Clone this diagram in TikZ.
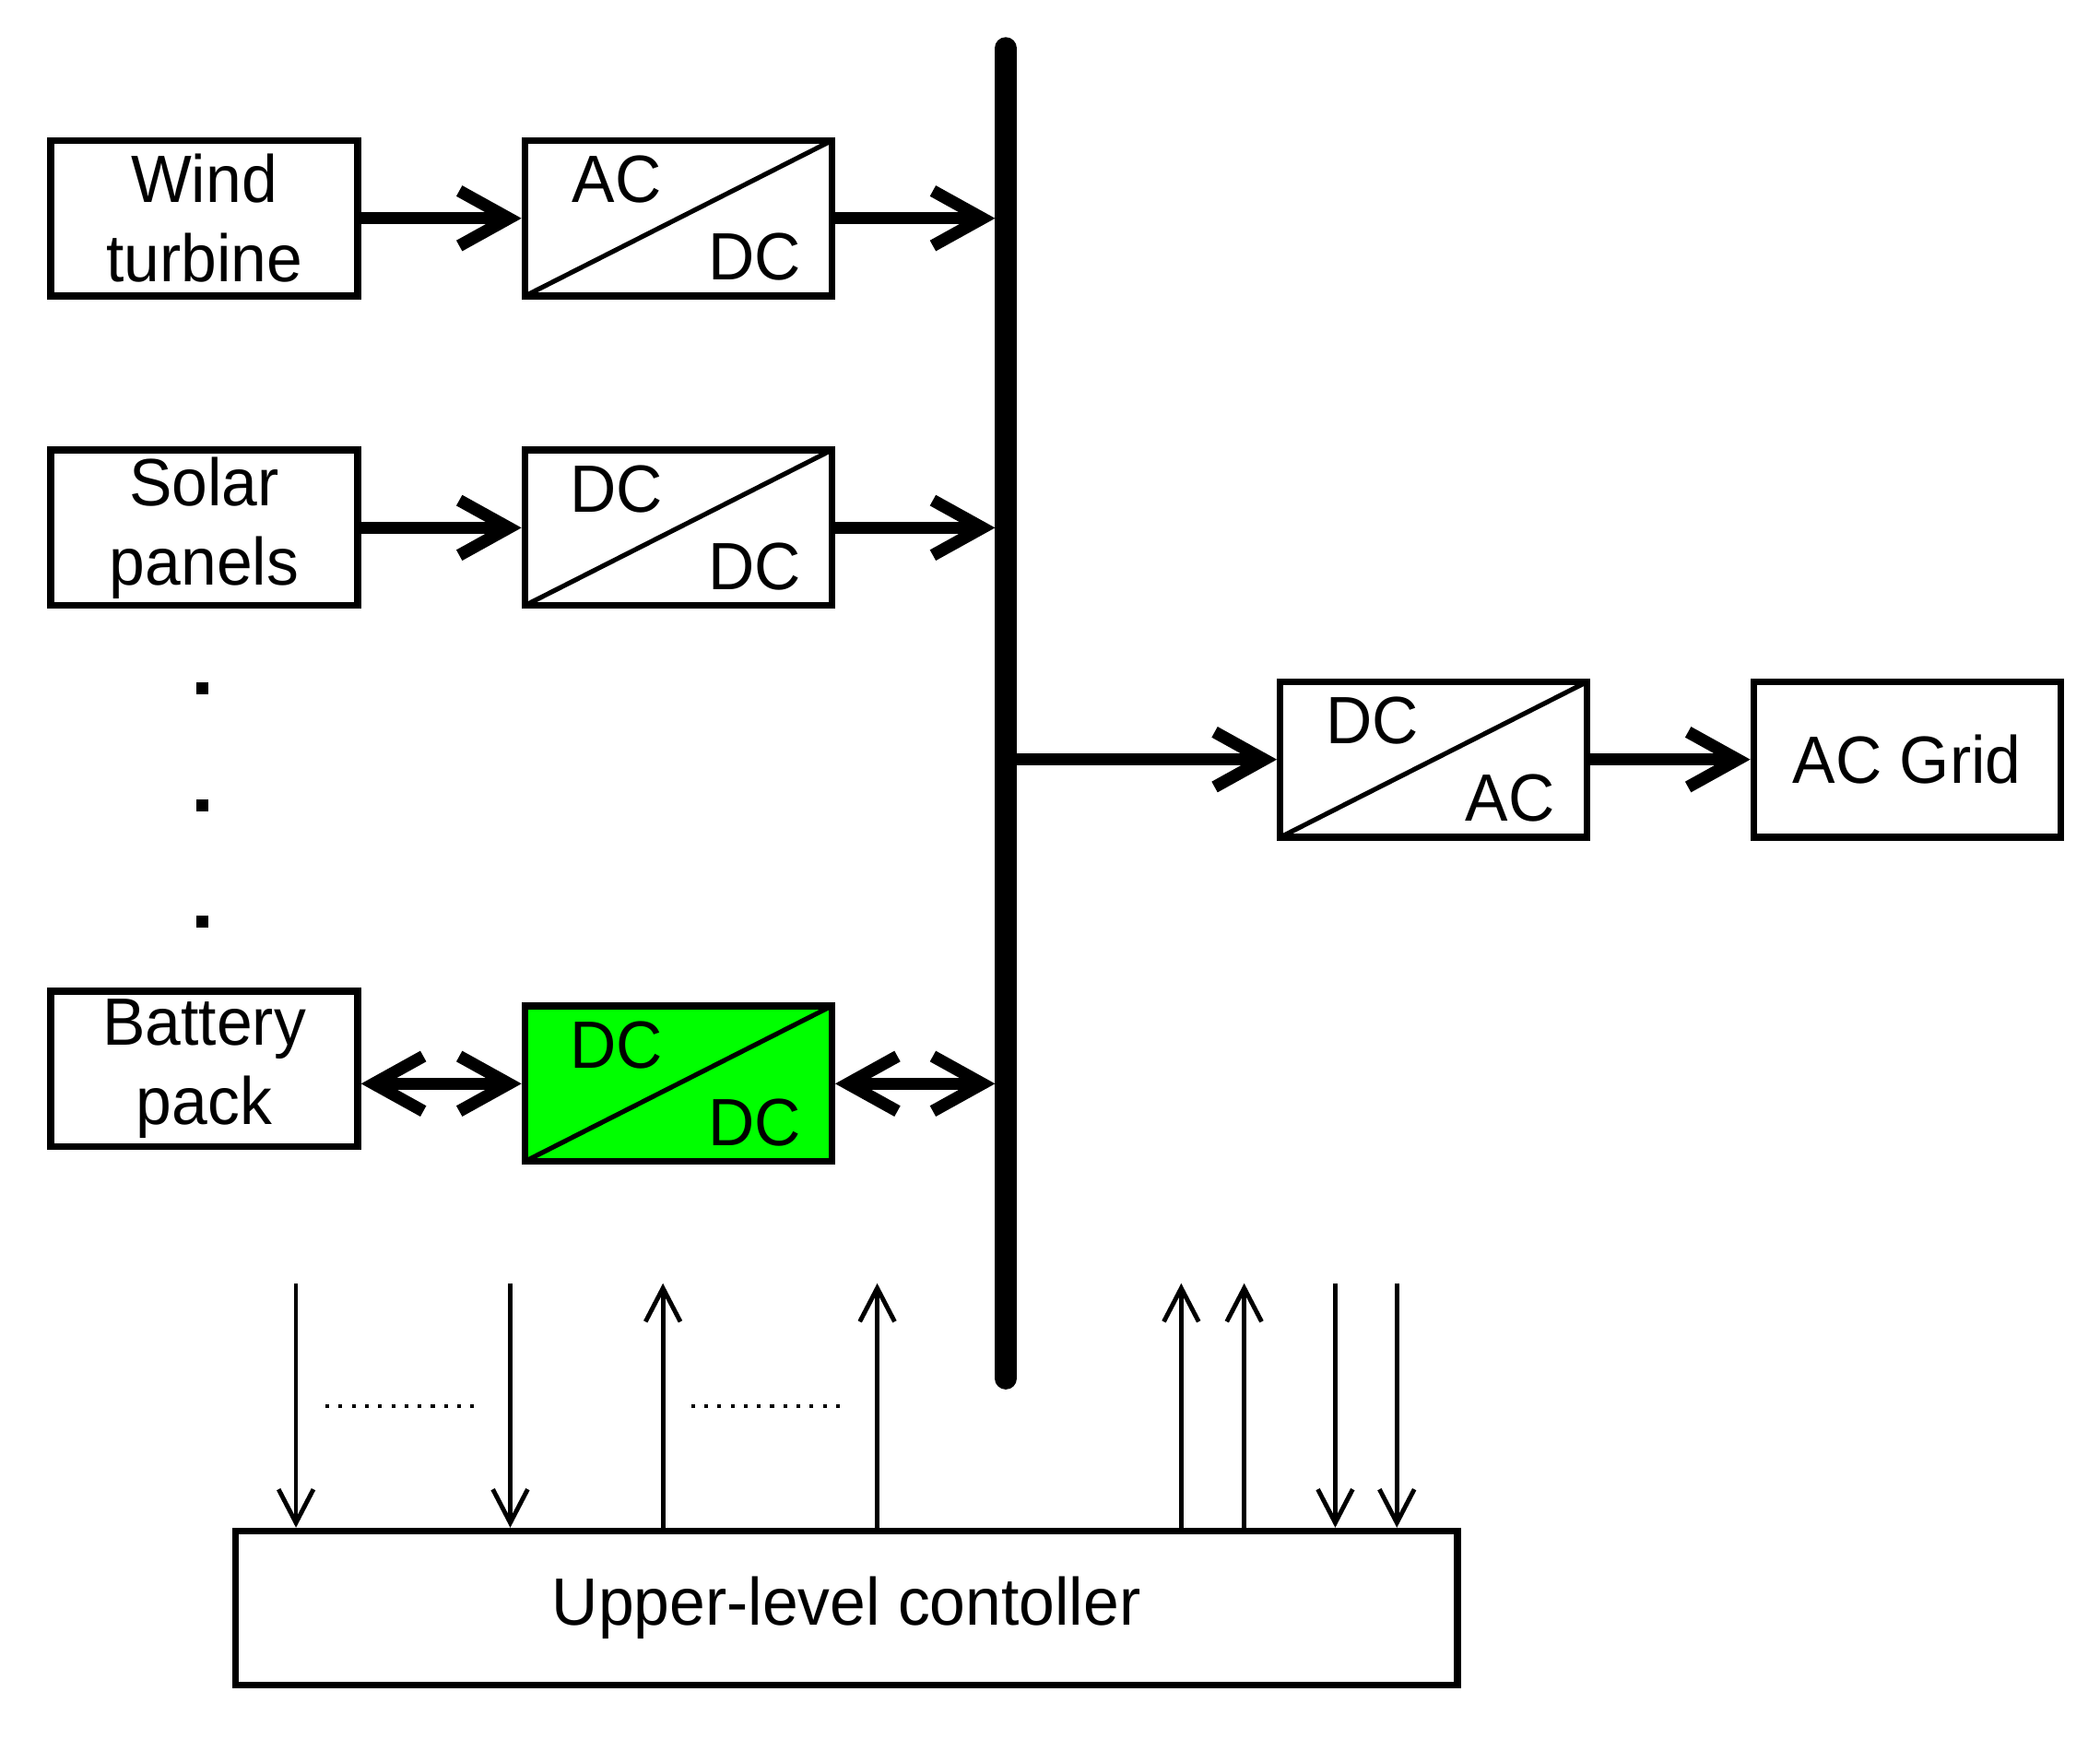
\documentclass[tikz,border=0pt]{standalone}
\usepackage{fontspec}
\setmainfont{Liberation Sans}[FakeStretch=0.96]
\usetikzlibrary{arrows.meta}

\definecolor{batgreen}{RGB}{0,255,0}
\tikzset{
  blk/.style={draw,line width=1.45pt,minimum width=2.29cm,minimum height=1.16cm,inner sep=0pt,align=center,font=\fontsize{14.2}{16.8}\selectfont},
  conv/.style={blk,path picture={\draw[line width=1pt] (path picture bounding box.south west) -- (path picture bounding box.north east);}},
  lbl/.style={inner sep=0pt,font=\fontsize{14.2}{16.8}\selectfont},
  flow/.style={line width=2.6pt,-{Straight Barb[length=3.7mm,width=4.1mm]}},
  biflow/.style={line width=2.6pt,{Straight Barb[length=3.7mm,width=4.1mm]}-{Straight Barb[length=3.7mm,width=4.1mm]}},
  sig/.style={line width=0.95pt,-{Straight Barb[length=2.5mm,width=2.6mm]}},
  bus/.style={line width=4.7pt,line cap=round}
}

\begin{document}
\begin{tikzpicture}[x=0.01cm,y=-0.01cm]
\useasboundingbox (0,0) rectangle (1568,1298);
% sources and loads
\node[blk] (wind) at (152.5,163) {Wind\\turbine};
\node[blk] (solar) at (152.5,394) {Solar\\panels};
\node[blk] (batt) at (152.5,798) {Battery\\pack};
\node[blk] (grid) at (1424,567) {AC Grid};
\node[blk,minimum width=9.12cm,minimum height=1.15cm] (ctrl) at (632,1200.5) {Upper-level contoller};
\foreach \y [count=\i] in {514,601,688}
  \fill (146.5,\y-4.5) rectangle ++(9,9);
% converters
\node[conv] (acdc) at (506.5,163) {};
\node[conv] (dcdc) at (506.5,394) {};
\node[conv,fill=batgreen] (bdc) at (506.5,809) {};
\node[conv] (dcac) at (1070.5,567) {};
\foreach \c/\a/\b in {acdc/AC/DC,dcdc/DC/DC,bdc/DC/DC,dcac/DC/AC}{
  \node[lbl] (\c-top) at ([xshift=-0.46cm,yshift=0.29cm]\c) {\a};
  \node[lbl] (\c-bot) at ([xshift=0.57cm,yshift=-0.29cm]\c) {\b};
}
% dc bus
\coordinate (bustop) at (751,36);
\coordinate (busbot) at (751,1029);
\coordinate (busl) at (743,0);
\coordinate (busr) at (759,0);
\draw[bus] (bustop) -- (busbot);
% power flow
\draw[flow] (wind) -- (acdc);
\draw[flow] (acdc.east) -- (acdc.east -| busl);
\draw[flow] (solar) -- (dcdc);
\draw[flow] (dcdc.east) -- (dcdc.east -| busl);
\draw[biflow] (batt.east |- bdc.west) -- (bdc.west);
\draw[biflow] (bdc.east) -- (bdc.east -| busl);
\draw[flow] (busr |- dcac.west) -- (dcac.west);
\draw[flow] (dcac) -- (grid);
% signals
\foreach \x in {221,381,997,1043}{
  \coordinate (s\x) at (\x,958);
  \draw[sig] (s\x) -- (s\x |- ctrl.north);
}
\foreach \x in {495,655,882,929}{
  \coordinate (s\x) at (\x,958);
  \draw[sig] (s\x |- ctrl.north) -- (s\x);
}
\coordinate (d1a) at (243,1050);
\coordinate (d1b) at (358,1050);
\coordinate (d2a) at (516,1050);
\coordinate (d2b) at (632,1050);
\draw[dotted,line width=0.8pt] (d1a) -- (d1b);
\draw[dotted,line width=0.8pt] (d2a) -- (d2b);
\end{tikzpicture}
\end{document}
